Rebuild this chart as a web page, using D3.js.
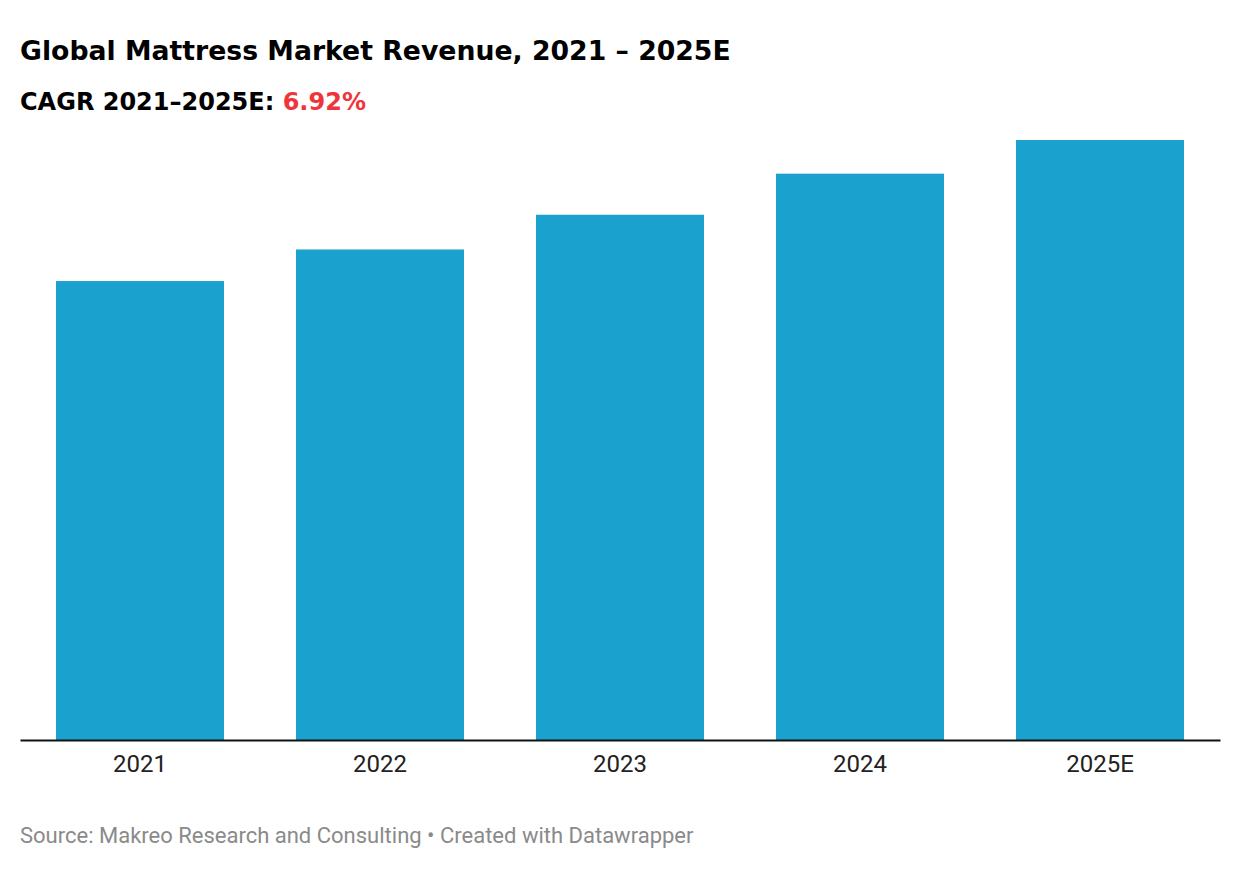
<!DOCTYPE html>
<html>
<head>
<meta charset="utf-8">
<script src="https://cdn.jsdelivr.net/npm/d3@7"></script>
<style>
  body { margin: 0; background: #fff; }
</style>
</head>
<body>
<svg id="chart"></svg>
<script>
// revenue, USD bn (no labels on the original)
var years = ["2021", "2022", "2023", "2024", "2025E"]
var revenue = [43.6, 46.6, 49.9, 53.8, 57.0]
var cagr = "6.92%"

var width = 1240, height = 870
var margin = {left: 20, right: 20, top: 140, bottom: 130}

var svg = d3.select("#chart")
  .attr("width", width)
  .attr("height", height)

svg.append("text")
  .attr("x", 20).attr("y", 60)
  .attr("font-family", "DejaVu Sans")
  .attr("font-weight", "bold")
  .attr("font-size", 26.7)
  .attr("fill", "#000")
  .text("Global Mattress Market Revenue, 2021 – 2025E")

var sub = svg.append("text")
  .attr("x", 20).attr("y", 110)
  .attr("font-family", "DejaVu Sans")
  .attr("font-weight", "bold")
  .attr("font-size", 24)
  .attr("fill", "#000")
sub.append("tspan").text("CAGR 2021–2025E: ")
sub.append("tspan").attr("fill", "#f0353a").text(cagr)

var x = d3.scaleBand()
  .domain(years)
  .range([margin.left, width - margin.right])
  .paddingInner(0.3)
  .paddingOuter(0.15)

var y = d3.scaleLinear()
  .domain([0, d3.max(revenue)])
  .range([height - margin.bottom, margin.top])

svg.append("g")
  .selectAll("rect")
  .data(revenue)
  .enter()
  .append("rect")
  .attr("x", function(d, i) { return x(years[i]) })
  .attr("y", function(d) { return y(d) })
  .attr("width", x.bandwidth())
  .attr("height", function(d) { return y(0) - y(d) })
  .attr("fill", "#1aa1cd")

var axis = svg.append("g")
  .attr("transform", "translate(0," + y(0) + ")")
  .call(d3.axisBottom(x).tickSize(0).tickPadding(15))
axis.select(".domain").attr("stroke", "#111").attr("stroke-width", 2)
axis.selectAll("text")
  .attr("font-family", "Roboto")
  .attr("font-size", 24)
  .attr("fill", "#222")

svg.append("text")
  .attr("x", 20).attr("y", 843)
  .attr("font-family", "Roboto")
  .attr("font-size", 22)
  .attr("fill", "#8a8a8a")
  .text("Source: Makreo Research and Consulting • Created with Datawrapper")
</script>
</body>
</html>
